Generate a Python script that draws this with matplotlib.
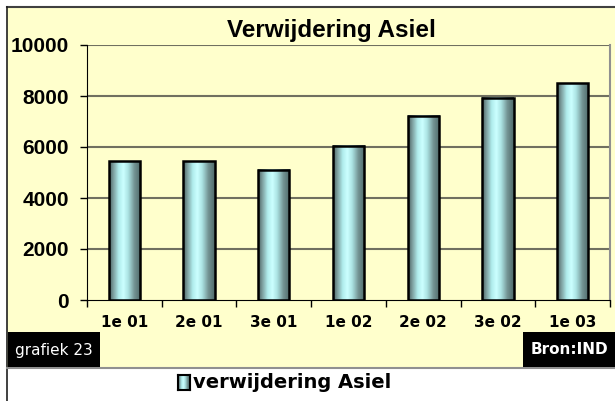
import numpy as np
import matplotlib
matplotlib.use('Agg')
from matplotlib import pyplot as plt
from matplotlib.patches import Rectangle
from matplotlib.colors import LinearSegmentedColormap
from matplotlib.font_manager import FontProperties

categories = ['1e 01', '2e 01', '3e 01', '1e 02', '2e 02', '3e 02', '1e 03']
values = [5450, 5450, 5100, 6050, 7230, 7930, 8500]
yticks = [0, 2000, 4000, 6000, 8000, 10000]

W, H = 615, 401
fig = plt.figure(figsize=(W / 100, H / 100), dpi=100)
fig.patch.set_facecolor('white')

def fx(px):
    return px / W

def fy(py):
    return 1 - py / H

arial_b = dict(family='Liberation Sans', weight='bold', stretch='normal')

# yellow panel with frame
fig.patches.append(Rectangle((fx(7), fy(368)), 1 - fx(7), fy(7) - fy(368),
                             transform=fig.transFigure, facecolor='#ffffcc',
                             edgecolor='none', zorder=-5))
fig.add_artist(plt.Line2D([fx(7), 1], [fy(7), fy(7)], color='#404040', lw=1.5, transform=fig.transFigure))
fig.add_artist(plt.Line2D([fx(7), fx(7)], [0, fy(7)], color='#202020', lw=1.2, transform=fig.transFigure))
fig.add_artist(plt.Line2D([fx(7), 1], [fy(368), fy(368)], color='#909090', lw=1.5, transform=fig.transFigure))

ax = fig.add_axes([fx(87), fy(300), fx(610) - fx(87), fy(45) - fy(300)])
ax.set_facecolor('#ffffcc')
ax.set_zorder(2)

cyl = LinearSegmentedColormap.from_list('cyl', [
    (0.0, '#486262'), (0.12, '#7a9a9a'), (0.3, '#b0ecec'), (0.45, '#ccffff'),
    (0.6, '#ace4e4'), (0.8, '#749494'), (1.0, '#4f6a6a')])
grad = np.linspace(0, 1, 64).reshape(1, -1)

x = np.arange(len(categories))
bw = 0.42
for xi, v in zip(x, values):
    ax.imshow(grad, cmap=cyl, extent=(xi - bw / 2, xi + bw / 2, 0, v),
              aspect='auto', zorder=3, interpolation='bilinear')
bars = ax.bar(x, values, width=bw, facecolor='none', edgecolor='black', lw=1.8, zorder=4)

ax.set_xlim(-0.5, len(categories) - 0.5)
ax.set_ylim(0, 10000)
for t in yticks[1:]:
    ax.axhline(t, color='#707060', lw=1.5, zorder=1)

ax.set_yticks(yticks)
ax.set_yticklabels([str(t) for t in yticks], fontproperties=FontProperties(size=15, **arial_b))
ax.tick_params(axis='y', length=5, width=1, pad=8, color='black')
ax.set_xticks(x)
ax.set_xticklabels(categories, fontsize=11, fontweight='bold', family='DejaVu Sans')
ax.set_xticks(np.arange(-0.5, len(categories)), minor=True)
ax.tick_params(axis='x', which='major', length=0, pad=11)
ax.tick_params(axis='x', which='minor', length=5, width=1, color='black')

ax.spines['left'].set_color('black')
ax.spines['bottom'].set_color('black')
ax.spines['top'].set_visible(False)
ax.spines['right'].set_color('#909090')
ax.spines['right'].set_linewidth(1.5)

fig.text(fx(331), fy(30), 'Verwijdering Asiel', ha='center', va='center',
         fontproperties=FontProperties(size=17.5, **arial_b))

# footer boxes
fig.patches.append(Rectangle((fx(8), fy(367)), fx(100) - fx(8), fy(332) - fy(367),
                             transform=fig.transFigure, facecolor='black', zorder=2))
fig.text(fx(15), fy(350), 'grafiek 23', color='white', fontsize=11,
         va='center', ha='left', family='DejaVu Sans')
fig.patches.append(Rectangle((fx(523), fy(367)), 1 - fx(523), fy(332) - fy(367),
                             transform=fig.transFigure, facecolor='black', zorder=2))
fig.text(fx(569), fy(350), 'Bron:IND', color='white', fontsize=11, fontweight='bold',
         va='center', ha='center', family='DejaVu Sans')

# legend
lax = fig.add_axes([fx(178), fy(390), fx(190) - fx(178), fy(375) - fy(390)])
lax.imshow(grad, cmap=cyl, aspect='auto', extent=(0, 1, 0, 1), interpolation='bilinear')
lax.set_xticks([])
lax.set_yticks([])
for s in lax.spines.values():
    s.set_linewidth(1.5)
fig.text(fx(193), fy(383), 'verwijdering Asiel', fontsize=14, fontweight='bold',
         va='center', ha='left', family='DejaVu Sans')

fig.savefig('out.png', dpi=100)
